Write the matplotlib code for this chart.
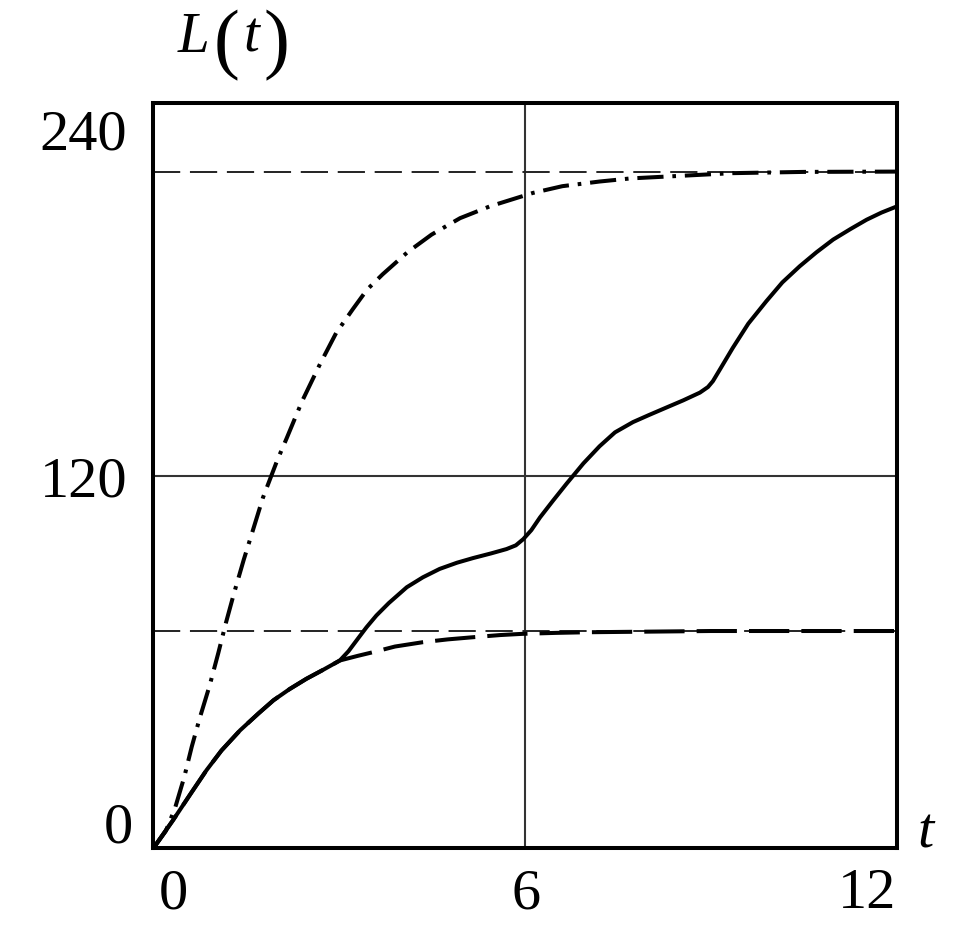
import matplotlib
matplotlib.use('Agg')
import matplotlib.pyplot as plt

## data
t_dashdot = [0, 0.2, 0.35, 0.5, 0.62, 0.75, 0.91, 1.05, 1.17, 1.3, 1.46, 1.6, 1.77, 2.0, 2.15, 2.4, 2.69, 2.95,
             3.22, 3.45, 3.70, 4.1, 4.49, 4.95, 5.43, 6.12, 6.6, 7.2, 7.7, 8.28, 9.35, 10.5, 12]
L_dashdot = [0, 5.5, 12.9, 23, 32.7, 42, 52.5, 63, 72.5, 82, 93, 102, 113, 125, 132, 144, 156, 166,
             173.7, 180, 184.9, 192, 197.7, 203, 206.8, 211.1, 213.3, 214.8, 215.8, 216.4, 217.5, 217.9, 218]

t_solid = [0, 0.32, 0.6, 0.86, 1.1, 1.40, 1.7, 1.94, 2.2, 2.47, 2.75, 3.01, 3.15, 3.3, 3.44, 3.6, 3.8, 4.09,
           4.35, 4.62, 4.9, 5.16, 5.45, 5.70, 5.85, 5.97, 6.1, 6.24, 6.45, 6.67, 6.94, 7.2, 7.45, 7.74, 8.0,
           8.28, 8.55, 8.82, 8.95, 9.03, 9.15, 9.35, 9.6, 9.89, 10.15, 10.43, 10.7, 10.97, 11.25, 11.51, 11.75, 12]
L_solid = [0, 9.1, 17.5, 25.2, 31.5, 38.0, 43.5, 47.7, 51.3, 54.6, 57.6, 60.5, 63.5, 67.5, 71.2, 75, 79, 84.1,
           87.3, 90, 92, 93.5, 95, 96.4, 97.6, 99.6, 102.5, 106.6, 112, 117.5, 124, 129.5, 134, 137.3, 139.6,
           142, 144.3, 146.8, 148.6, 150.5, 154.5, 161.2, 169, 176.2, 182.3, 187.5, 192, 196.1, 199.5, 202.5, 204.8, 206.8]

t_dashed = [0, 0.32, 0.6, 0.86, 1.1, 1.40, 1.7, 1.94, 2.2, 2.47, 2.75, 3.01, 3.3, 3.55, 3.9, 4.35, 4.75, 5.16,
            5.6, 5.97, 6.5, 7.0, 8.0, 9.0, 10.5, 12]
L_dashed = [0, 9.1, 17.5, 25.2, 31.5, 38.0, 43.5, 47.7, 51.3, 54.6, 57.6, 60.5, 62, 63.2, 65, 66.4, 67.3, 68.0,
            68.7, 69.1, 69.4, 69.6, 69.8, 70, 70, 70]

asymptotes = [218, 70]

x_ticks = [0, 6, 12]
x_labels = ['0', '6', '12']
y_ticks = [0, 120, 240]
y_labels = ['0', '120', '240']

W, H = 975, 942
fig = plt.figure(figsize=(W / 100, H / 100), dpi=100)
ax = fig.add_axes([153.3 / W, 1 - 848.3 / H, (897 - 153.3) / W, (848.3 - 103.3) / H])

serif = 'Liberation Serif'

## grid lines
ax.axvline(6, color='#333333', lw=1.5, zorder=1)
ax.axhline(120, color='#333333', lw=1.5, zorder=1)

## asymptotes
for a in asymptotes:
    ax.axhline(a, color='#222222', lw=1.4, dashes=(14, 5), zorder=2)

ax.plot(t_dashdot, L_dashdot, color='black', lw=2.9, dashes=(6.5, 2.2, 0.9, 2.2), zorder=3)
ax.plot(t_dashed, L_dashed, color='black', lw=2.9, dashes=(10, 3), zorder=3)
ax.plot(t_solid, L_solid, color='black', lw=2.9, zorder=4)

ax.set_xlim(0, 12)
ax.set_ylim(0, 240)
for s in ax.spines.values():
    s.set_linewidth(2.9)
ax.set_xticks([])
ax.set_yticks([])

## tick labels (placed like the original, not centred on ticks)
x_off = [20, 1, -30]
for v, lab, dx in zip(x_ticks, x_labels, x_off):
    ax.annotate(lab, xy=(v, 0), xytext=(dx, -46), textcoords='offset pixels',
                ha='center', va='center', fontsize=42, family=serif, annotation_clip=False)
y_off = [(-20, 20), (-26, -7), (-26, -32)]
for v, lab, (dx, dy) in zip(y_ticks, y_labels, y_off):
    ax.annotate(lab, xy=(0, v), xytext=(dx, dy), textcoords='offset pixels',
                ha='right', va='center', fontsize=42, family=serif, annotation_clip=False)

## axis names
fig.text(917 / W, 1 - 847 / H, 't', fontsize=42, family=serif, style='italic', ha='left', va='baseline')
fig.text(178 / W, 1 - 52 / H, 'L', fontsize=41, family=serif, style='italic', ha='left', va='baseline')
fig.text(214 / W, 1 - 64 / H, '(', fontsize=56, family=serif, ha='left', va='baseline')
fig.text(243 / W, 1 - 52 / H, 't', fontsize=41, family=serif, style='italic', ha='left', va='baseline')
fig.text(263 / W, 1 - 64 / H, ')', fontsize=56, family=serif, ha='left', va='baseline')

fig.savefig('out.png', dpi=100)
